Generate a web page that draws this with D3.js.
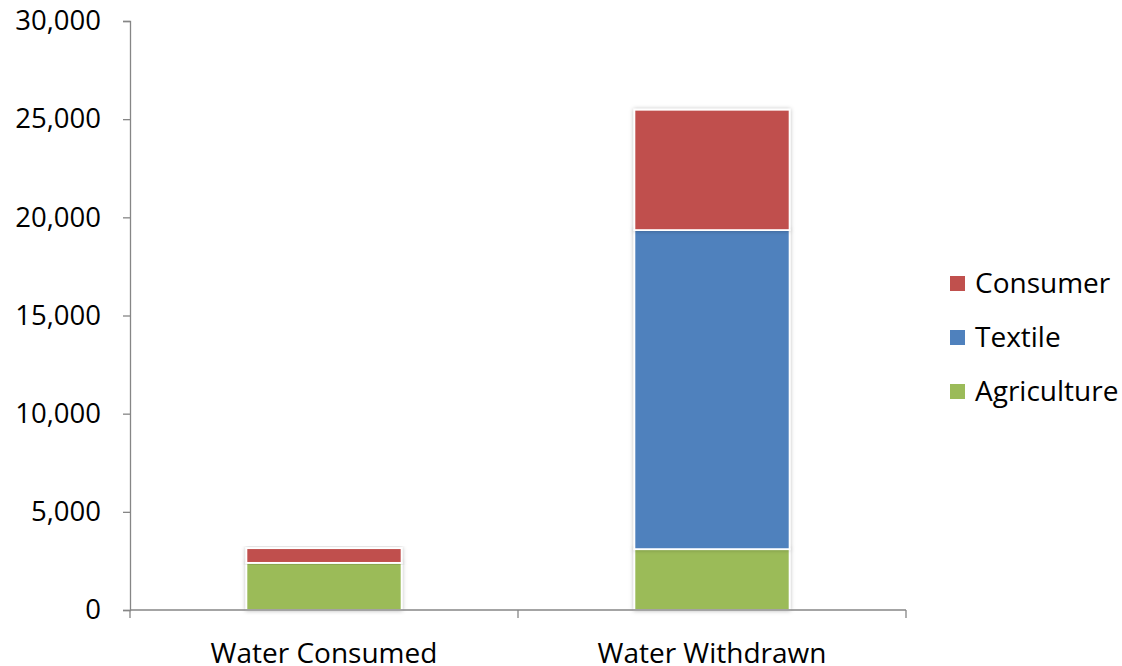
<!DOCTYPE html>
<html><head><meta charset="utf-8">
<script src="https://cdn.jsdelivr.net/npm/d3@7"></script>
<style>body{margin:0;background:#fff}svg{display:block}text{font-family:"Open Sans",sans-serif;fill:#000}</style>
</head><body><svg id="c" width="1122" height="666"></svg>
<script>
const categories = ["Water Consumed", "Water Withdrawn"];
const seriesNames = ["Agriculture", "Textile", "Consumer"];
const agriculture = [2400, 3100];
const textile = [0, 16250];
const consumer = [750, 6130];
const yTicks = [0, 5000, 10000, 15000, 20000, 25000, 30000];
const colors = ["#9BBB59", "#4F81BD", "#C0504D"];

const svg = d3.select("#c");
const defs = svg.append("defs");
const f = defs.append("filter").attr("id","sh").attr("x","-10%").attr("y","-10%").attr("width","120%").attr("height","120%");
f.append("feDropShadow").attr("dx",0).attr("dy",0).attr("stdDeviation",2.2).attr("flood-color","#000").attr("flood-opacity",0.28);

const x = d3.scaleBand().domain(categories).range([130, 906]).padding(0);
const y = d3.scaleLinear().domain([0, 30000]).range([610, 21]);
const barW = x.bandwidth() * 0.4;

const rows = categories.map((c, i) => ({cat: c, Agriculture: agriculture[i], Textile: textile[i], Consumer: consumer[i]}));
const stack = d3.stack().keys(seriesNames)(rows);

// y axis
const yAxis = d3.axisLeft(y).tickValues(yTicks).tickFormat(d3.format(",")).tickSize(7).tickPadding(22);
const gy = svg.append("g").attr("transform","translate(130,0)").call(yAxis);
gy.select(".domain").attr("stroke","#868686").attr("stroke-width",1.3);
gy.selectAll(".tick line").attr("stroke","#868686").attr("stroke-width",1.3);
gy.selectAll(".tick text").style("font-size","27.5px").attr("font-family","'Open Sans',sans-serif").attr("fill","#000");

// bars
const gBars = svg.append("g");
stack.forEach((s, si) => {
  gBars.selectAll(null).data(s.filter(d => d[1] - d[0] > 0)).enter().append("rect")
    .attr("x", d => x(d.data.cat) + (x.bandwidth() - barW) / 2)
    .attr("width", barW)
    .attr("y", d => y(d[1]))
    .attr("height", d => y(d[0]) - y(d[1]))
    .attr("fill", colors[si])
    .attr("stroke", "#fff").attr("stroke-width", 1.8)
    .attr("filter","url(#sh)");
});

// x axis
const xAxisG = svg.append("g").attr("transform","translate(0,610)");
xAxisG.append("line").attr("x1",130).attr("x2",906).attr("y1",0).attr("y2",0).attr("stroke","#868686").attr("stroke-width",1.3);
const bounds = [130].concat(categories.map(c => x(c) + x.bandwidth()));
xAxisG.selectAll(".xt").data(bounds).enter().append("line")
  .attr("x1", d => d).attr("x2", d => d).attr("y1", 0).attr("y2", 8)
  .attr("stroke","#868686").attr("stroke-width",1.3);
xAxisG.selectAll(".xl").data(categories).enter().append("text")
  .attr("x", d => x(d) + x.bandwidth()/2).attr("y", 53)
  .attr("text-anchor","middle").style("font-size","28px").text(d => d);

// legend
const legendItems = seriesNames.slice().reverse();
const lg = svg.append("g").attr("transform","translate(950,293)");
legendItems.forEach((n, i) => {
  const g = lg.append("g").attr("transform", `translate(0,${i*54})`);
  g.append("rect").attr("x",0).attr("y",-17).attr("width",15).attr("height",15).attr("fill", colors[seriesNames.indexOf(n)]);
  g.append("text").attr("x",25).attr("y",0).style("font-size","28px").text(n);
});
</script></body></html>
